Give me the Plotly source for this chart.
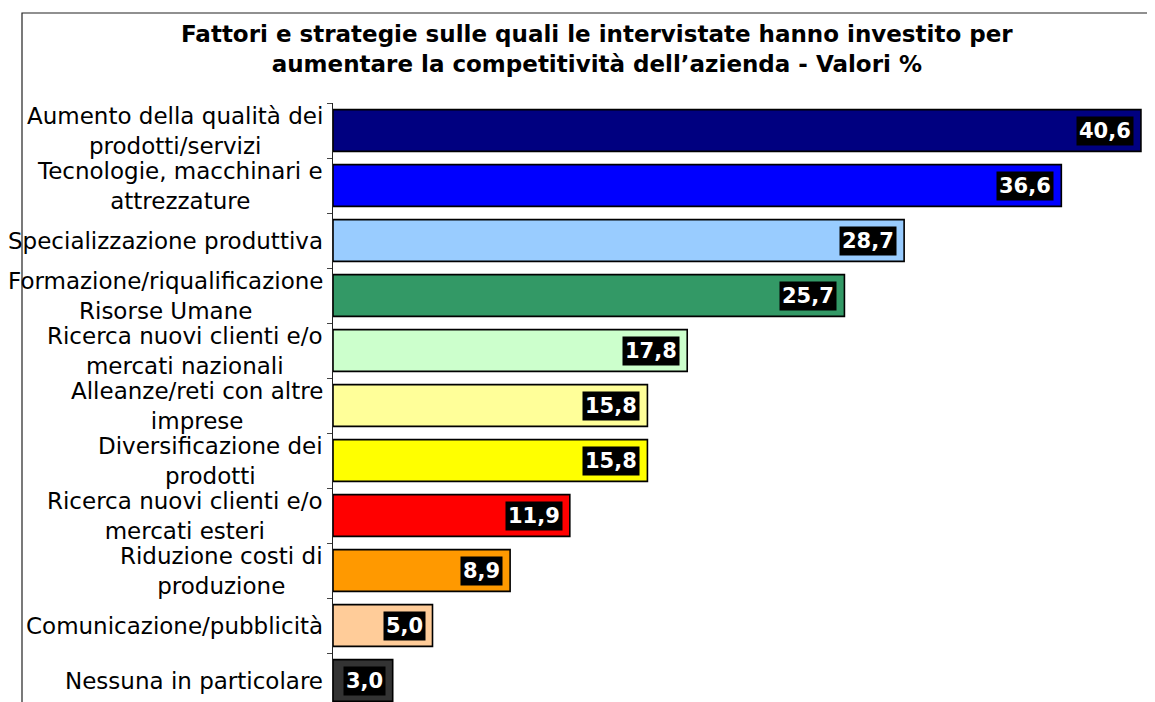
import plotly.graph_objects as go

categories = [
    "Aumento della qualità dei<br>prodotti/servizi",
    "Tecnologie, macchinari e<br>attrezzature",
    "Specializzazione produttiva",
    "Formazione/riqualificazione<br>Risorse Umane",
    "Ricerca nuovi clienti e/o<br>mercati nazionali",
    "Alleanze/reti con altre<br>imprese",
    "Diversificazione dei<br>prodotti",
    "Ricerca nuovi clienti e/o<br>mercati esteri",
    "Riduzione costi di<br>produzione",
    "Comunicazione/pubblicità",
    "Nessuna in particolare",
]
values = [40.6, 36.6, 28.7, 25.7, 17.8, 15.8, 15.8, 11.9, 8.9, 5.0, 3.0]
value_labels = ["40,6", "36,6", "28,7", "25,7", "17,8", "15,8", "15,8", "11,9", "8,9", "5,0", "3,0"]
colors = ["#000080", "#0000FF", "#99CCFF", "#339966", "#CCFFCC", "#FFFF99",
          "#FFFF00", "#FF0000", "#FF9900", "#FFCC99", "#333333"]
title_text = ("<b>Fattori e strategie sulle quali le intervistate hanno investito per<br>"
              "aumentare la competitività dell’azienda - Valori %</b>")

OFF = 8  # page body margin
W, H = 1155 - OFF, 702 - OFF
ML, MT = 333 - OFF, 103 - OFF
PW, PH = W - ML, H - MT
px_per_unit = 19.9
px_per_cat = 55

fig = go.Figure()
fig.add_trace(go.Bar(
    x=values, y=categories, orientation="h",
    marker=dict(color=colors, line=dict(color="black", width=1.6)),
    hoverinfo="skip",
))

annotations = []
for c in categories:
    annotations.append(dict(
        x=0, xref="paper", y=c, yref="y", text=c, showarrow=False,
        xanchor="right", yanchor="middle", xshift=-8, align="center",
        font=dict(family="DejaVu Sans", size=23, color="black"),
    ))
for c, v, lab in zip(categories, values, value_labels):
    annotations.append(dict(
        x=v, xref="x", y=c, yref="y", text="<b>" + lab + "</b>", showarrow=False,
        xanchor="right", yanchor="middle", xshift=-7,
        bgcolor="black", borderpad=2,
        font=dict(family="DejaVu Sans", size=21, color="white"),
    ))
annotations.append(dict(
    x=(597 - 333) / PW, xref="paper", y=1 + (103 - 49) / PH, yref="paper",
    text=title_text, showarrow=False, xanchor="center", yanchor="middle",
    align="center", font=dict(family="DejaVu Sans", size=23, color="black"),
))

fig.update_layout(
    width=W, height=H,
    margin=dict(l=ML, r=0, t=MT, b=0, pad=0),
    paper_bgcolor="white", plot_bgcolor="white",
    showlegend=False, bargap=0.24,
    font=dict(family="DejaVu Sans", size=20, color="black"),
    annotations=annotations,
    shapes=[dict(
        type="rect", xref="paper", yref="paper",
        x0=(22 - 333) / PW, x1=1.05, y0=-0.05, y1=1 + (103 - 13) / PH,
        line=dict(color="#222222", width=1.2), fillcolor="rgba(0,0,0,0)", layer="below",
    )],
)
fig.update_xaxes(range=[0, PW / px_per_unit], visible=False, fixedrange=True)
fig.update_yaxes(
    type="category", categoryorder="array", categoryarray=categories,
    range=[-0.5 + PH / px_per_cat, -0.5],
    showticklabels=False, showgrid=False, zeroline=False,
    showline=True, linecolor="#222222", linewidth=1.2,
    ticks="outside", ticklen=5, tickcolor="#444444", tickwidth=1.2,
    tickson="boundaries", fixedrange=True,
)

fig.write_html("out.html")
